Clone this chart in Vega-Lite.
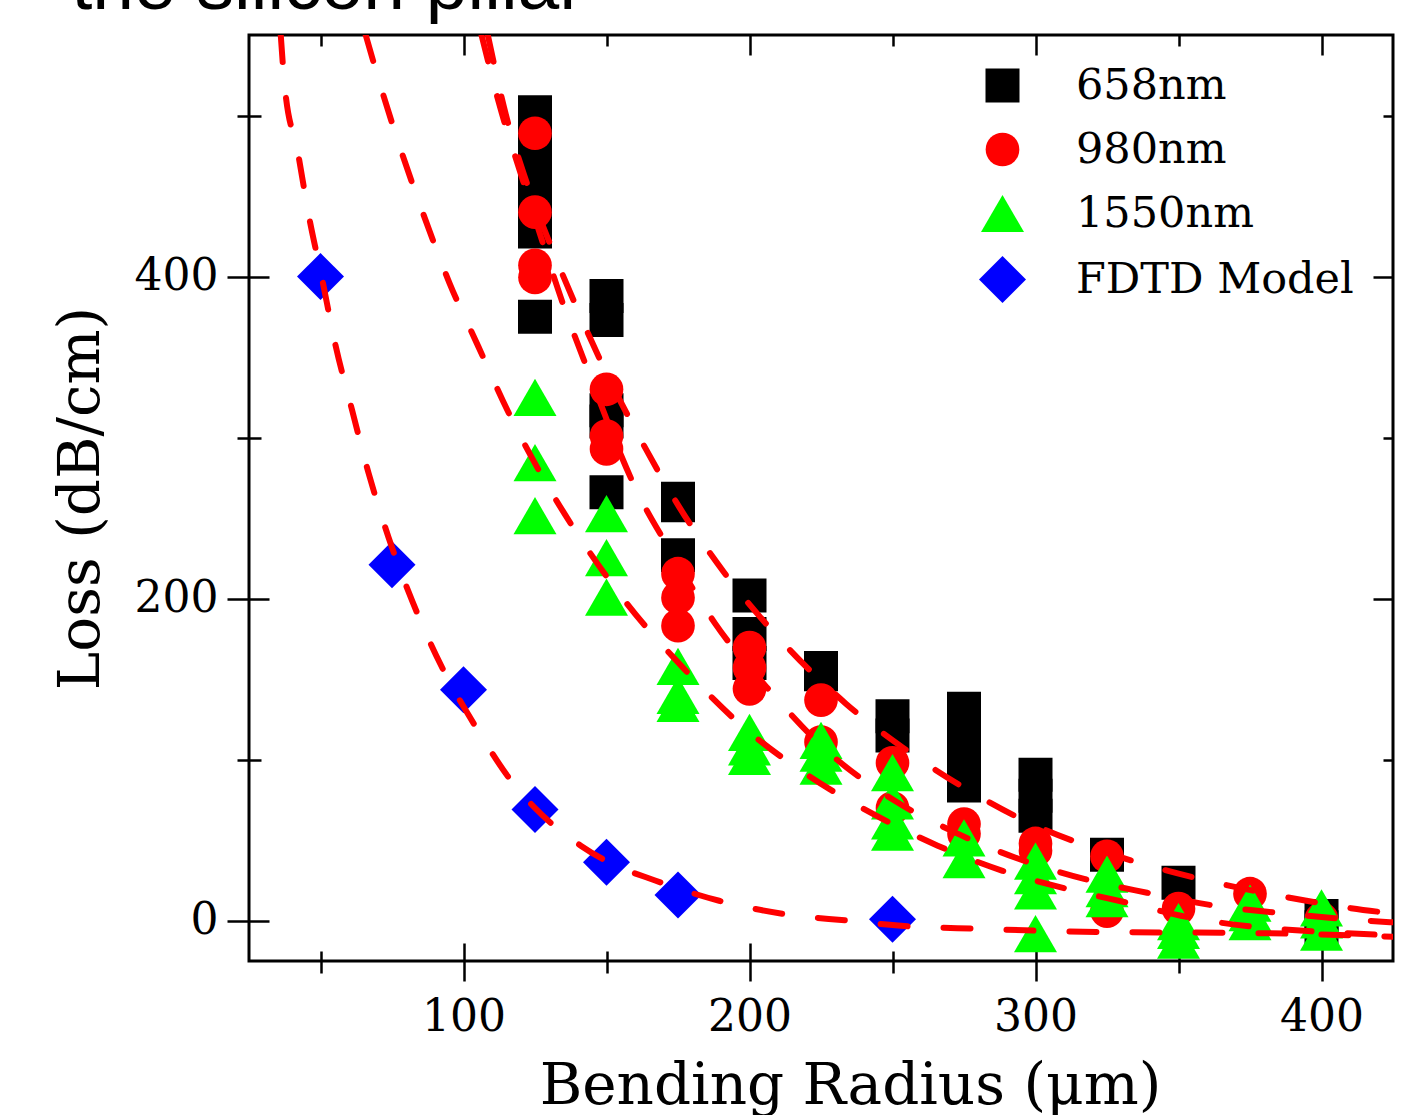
{
  "$schema": "https://vega.github.io/schema/vega-lite/v6.json",
  "autosize": "none",
  "width": 1144,
  "height": 926,
  "padding": {"left": 249, "top": 35, "right": 15, "bottom": 154},
  "background": "white",
  "datasets": {
    "points": [
      {"series": "658nm", "r": 125, "loss": 502}, {"series": "658nm", "r": 125, "loss": 484}, {"series": "658nm", "r": 125, "loss": 469}, {"series": "658nm", "r": 125, "loss": 460}, {"series": "658nm", "r": 125, "loss": 441}, {"series": "658nm", "r": 125, "loss": 428}, {"series": "658nm", "r": 125, "loss": 375},
      {"series": "658nm", "r": 150, "loss": 388}, {"series": "658nm", "r": 150, "loss": 373}, {"series": "658nm", "r": 150, "loss": 317}, {"series": "658nm", "r": 150, "loss": 310}, {"series": "658nm", "r": 150, "loss": 266},
      {"series": "658nm", "r": 175, "loss": 262}, {"series": "658nm", "r": 175, "loss": 258}, {"series": "658nm", "r": 175, "loss": 227},
      {"series": "658nm", "r": 200, "loss": 202}, {"series": "658nm", "r": 200, "loss": 178}, {"series": "658nm", "r": 200, "loss": 160},
      {"series": "658nm", "r": 225, "loss": 157}, {"series": "658nm", "r": 225, "loss": 153},
      {"series": "658nm", "r": 250, "loss": 127}, {"series": "658nm", "r": 250, "loss": 115},
      {"series": "658nm", "r": 275, "loss": 131.7}, {"series": "658nm", "r": 275, "loss": 115}, {"series": "658nm", "r": 275, "loss": 99.4}, {"series": "658nm", "r": 275, "loss": 84},
      {"series": "658nm", "r": 300, "loss": 90.7}, {"series": "658nm", "r": 300, "loss": 77.6}, {"series": "658nm", "r": 300, "loss": 65.2},
      {"series": "658nm", "r": 325, "loss": 41},
      {"series": "658nm", "r": 350, "loss": 23.6},
      {"series": "658nm", "r": 400, "loss": 3}, {"series": "658nm", "r": 400, "loss": -4},
      {"series": "980nm", "r": 125, "loss": 489}, {"series": "980nm", "r": 125, "loss": 440}, {"series": "980nm", "r": 125, "loss": 407}, {"series": "980nm", "r": 125, "loss": 399.5},
      {"series": "980nm", "r": 150, "loss": 330}, {"series": "980nm", "r": 150, "loss": 301}, {"series": "980nm", "r": 150, "loss": 293},
      {"series": "980nm", "r": 175, "loss": 215.5}, {"series": "980nm", "r": 175, "loss": 200.6}, {"series": "980nm", "r": 175, "loss": 183.2},
      {"series": "980nm", "r": 200, "loss": 169.6}, {"series": "980nm", "r": 200, "loss": 157}, {"series": "980nm", "r": 200, "loss": 144},
      {"series": "980nm", "r": 225, "loss": 137}, {"series": "980nm", "r": 225, "loss": 111},
      {"series": "980nm", "r": 250, "loss": 98}, {"series": "980nm", "r": 250, "loss": 70},
      {"series": "980nm", "r": 275, "loss": 60}, {"series": "980nm", "r": 275, "loss": 54},
      {"series": "980nm", "r": 300, "loss": 48}, {"series": "980nm", "r": 300, "loss": 43.5},
      {"series": "980nm", "r": 325, "loss": 40}, {"series": "980nm", "r": 325, "loss": 6},
      {"series": "980nm", "r": 350, "loss": 7.5},
      {"series": "980nm", "r": 375, "loss": 16.8},
      {"series": "980nm", "r": 400, "loss": 1.2},
      {"series": "1550nm", "r": 125, "loss": 325}, {"series": "1550nm", "r": 125, "loss": 284.5}, {"series": "1550nm", "r": 125, "loss": 251.5},
      {"series": "1550nm", "r": 150, "loss": 252.8}, {"series": "1550nm", "r": 150, "loss": 225.5}, {"series": "1550nm", "r": 150, "loss": 201},
      {"series": "1550nm", "r": 175, "loss": 158}, {"series": "1550nm", "r": 175, "loss": 140}, {"series": "1550nm", "r": 175, "loss": 135},
      {"series": "1550nm", "r": 200, "loss": 117}, {"series": "1550nm", "r": 200, "loss": 108}, {"series": "1550nm", "r": 200, "loss": 102},
      {"series": "1550nm", "r": 225, "loss": 112}, {"series": "1550nm", "r": 225, "loss": 104}, {"series": "1550nm", "r": 225, "loss": 96},
      {"series": "1550nm", "r": 250, "loss": 92}, {"series": "1550nm", "r": 250, "loss": 74.5}, {"series": "1550nm", "r": 250, "loss": 62}, {"series": "1550nm", "r": 250, "loss": 55},
      {"series": "1550nm", "r": 275, "loss": 51.5}, {"series": "1550nm", "r": 275, "loss": 38},
      {"series": "1550nm", "r": 300, "loss": 37}, {"series": "1550nm", "r": 300, "loss": 28}, {"series": "1550nm", "r": 300, "loss": 18.6}, {"series": "1550nm", "r": 300, "loss": -8},
      {"series": "1550nm", "r": 325, "loss": 29}, {"series": "1550nm", "r": 325, "loss": 20}, {"series": "1550nm", "r": 325, "loss": 13.7},
      {"series": "1550nm", "r": 350, "loss": -0.6}, {"series": "1550nm", "r": 350, "loss": -6}, {"series": "1550nm", "r": 350, "loss": -12},
      {"series": "1550nm", "r": 375, "loss": 11}, {"series": "1550nm", "r": 375, "loss": 5}, {"series": "1550nm", "r": 375, "loss": -0.6},
      {"series": "1550nm", "r": 400, "loss": 8}, {"series": "1550nm", "r": 400, "loss": 0.6}, {"series": "1550nm", "r": 400, "loss": -7},
      {"series": "FDTD Model", "r": 50, "loss": 400}, {"series": "FDTD Model", "r": 75, "loss": 221}, {"series": "FDTD Model", "r": 100, "loss": 143.5}, {"series": "FDTD Model", "r": 125, "loss": 69}, {"series": "FDTD Model", "r": 150, "loss": 36.3}, {"series": "FDTD Model", "r": 175, "loss": 16}, {"series": "FDTD Model", "r": 250, "loss": 1}
    ],
    "fits": [
      {"fit": "FDTD", "r": 36.1, "loss": 550}, {"fit": "FDTD", "r": 37.5, "loss": 518}, {"fit": "FDTD", "r": 42.1, "loss": 477}, {"fit": "FDTD", "r": 45.9, "loss": 438}, {"fit": "FDTD", "r": 50.4, "loss": 400}, {"fit": "FDTD", "r": 55.3, "loss": 357}, {"fit": "FDTD", "r": 60.9, "loss": 318}, {"fit": "FDTD", "r": 66.8, "loss": 278}, {"fit": "FDTD", "r": 73.8, "loss": 238}, {"fit": "FDTD", "r": 82.2, "loss": 198}, {"fit": "FDTD", "r": 92.3, "loss": 158}, {"fit": "FDTD", "r": 104.9, "loss": 118.6}, {"fit": "FDTD", "r": 117.5, "loss": 85}, {"fit": "FDTD", "r": 125, "loss": 70}, {"fit": "FDTD", "r": 141, "loss": 46.6}, {"fit": "FDTD", "r": 150, "loss": 37}, {"fit": "FDTD", "r": 167, "loss": 25}, {"fit": "FDTD", "r": 189.4, "loss": 12.4}, {"fit": "FDTD", "r": 211.7, "loss": 4.3}, {"fit": "FDTD", "r": 234.7, "loss": 0}, {"fit": "FDTD", "r": 252, "loss": -3}, {"fit": "FDTD", "r": 280, "loss": -5}, {"fit": "FDTD", "r": 324, "loss": -7}, {"fit": "FDTD", "r": 370, "loss": -7.5}, {"fit": "FDTD", "r": 400, "loss": -8.5}, {"fit": "FDTD", "r": 425, "loss": -10},
      {"fit": "1550", "r": 65.8, "loss": 550}, {"fit": "1550", "r": 71.4, "loss": 516}, {"fit": "1550", "r": 78.4, "loss": 477}, {"fit": "1550", "r": 86.4, "loss": 436.6}, {"fit": "1550", "r": 95.1, "loss": 396}, {"fit": "1550", "r": 105.2, "loss": 356.5}, {"fit": "1550", "r": 115.4, "loss": 316.8}, {"fit": "1550", "r": 127.2, "loss": 277}, {"fit": "1550", "r": 141, "loss": 237}, {"fit": "1550", "r": 156.9, "loss": 197.5}, {"fit": "1550", "r": 176.4, "loss": 157.8}, {"fit": "1550", "r": 197.7, "loss": 120.5}, {"fit": "1550", "r": 219, "loss": 92}, {"fit": "1550", "r": 243.5, "loss": 66}, {"fit": "1550", "r": 265.8, "loss": 46.6}, {"fit": "1550", "r": 288.5, "loss": 31}, {"fit": "1550", "r": 310.5, "loss": 20}, {"fit": "1550", "r": 332.5, "loss": 11}, {"fit": "1550", "r": 355, "loss": 1.6}, {"fit": "1550", "r": 377.8, "loss": -4}, {"fit": "1550", "r": 400.5, "loss": -7}, {"fit": "1550", "r": 425, "loss": -9},
      {"fit": "980", "r": 106.3, "loss": 550}, {"fit": "980", "r": 113.3, "loss": 502}, {"fit": "980", "r": 120, "loss": 464}, {"fit": "980", "r": 127.6, "loss": 421.7}, {"fit": "980", "r": 134.6, "loss": 384}, {"fit": "980", "r": 143, "loss": 344}, {"fit": "980", "r": 161.4, "loss": 264}, {"fit": "980", "r": 172.6, "loss": 229}, {"fit": "980", "r": 188, "loss": 184.5}, {"fit": "980", "r": 207.5, "loss": 142}, {"fit": "980", "r": 227, "loss": 105.6}, {"fit": "980", "r": 250.8, "loss": 74.5}, {"fit": "980", "r": 272, "loss": 54.7}, {"fit": "980", "r": 294, "loss": 38.5}, {"fit": "980", "r": 317, "loss": 26}, {"fit": "980", "r": 339, "loss": 17.4}, {"fit": "980", "r": 360.4, "loss": 10}, {"fit": "980", "r": 384.5, "loss": 5}, {"fit": "980", "r": 406.8, "loss": 1.2}, {"fit": "980", "r": 425, "loss": -1},
      {"fit": "658", "r": 108.5, "loss": 550}, {"fit": "658", "r": 114.8, "loss": 500.6}, {"fit": "658", "r": 121.4, "loss": 462}, {"fit": "658", "r": 131, "loss": 417}, {"fit": "658", "r": 140.5, "loss": 377}, {"fit": "658", "r": 148.9, "loss": 344}, {"fit": "658", "r": 162.5, "loss": 297}, {"fit": "658", "r": 175.4, "loss": 257}, {"fit": "658", "r": 190.8, "loss": 217}, {"fit": "658", "r": 209.2, "loss": 177.6}, {"fit": "658", "r": 233.7, "loss": 134.8}, {"fit": "658", "r": 253.6, "loss": 107.5}, {"fit": "658", "r": 275.6, "loss": 82}, {"fit": "658", "r": 297.6, "loss": 61}, {"fit": "658", "r": 319.9, "loss": 45.3}, {"fit": "658", "r": 342.9, "loss": 32.6}, {"fit": "658", "r": 365.3, "loss": 22.7}, {"fit": "658", "r": 388, "loss": 14.6}, {"fit": "658", "r": 410.3, "loss": 7.8}, {"fit": "658", "r": 425, "loss": 4.5}
    ]
  },
  "config": {
    "view": {"stroke": "black", "strokeWidth": 3},
    "axis": {"tickColor": "black", "tickWidth": 2.5, "labelColor": "black", "titleColor": "black", "labelFont": "DejaVu Serif", "titleFont": "DejaVu Serif", "titleFontWeight": "normal", "grid": false, "domain": false},
    "legend": {"labelFont": "DejaVu Serif", "labelFontSize": 43, "labelColor": "black", "labelLimit": 500, "symbolStrokeWidth": 0}
  },
  "resolve": {"axis": {"x": "independent", "y": "independent"}},
  "layer": [
    {
      "data": {"name": "points"},
      "transform": [{"filter": "datum.series === '658nm'"}],
      "mark": {"type": "point", "filled": true, "opacity": 1, "strokeWidth": 0},
      "encoding": {
        "x": {"field": "r", "type": "quantitative", "scale": {"domain": [25, 425], "nice": false, "zero": false},
          "axis": {"orient": "bottom", "values": [100, 200, 300, 400], "ticks": false, "labelFontSize": 44, "labelPadding": 34, "title": "Bending Radius (μm)", "titleFontSize": 58, "titlePadding": 18, "titleX": 601}},
        "y": {"field": "loss", "type": "quantitative", "scale": {"domain": [-25, 550], "nice": false, "zero": false},
          "axis": {"orient": "left", "values": [0, 200, 400], "ticks": false, "labelFontSize": 44, "labelPadding": 31, "title": "Loss (dB/cm)", "titleFontSize": 58, "titlePadding": 24}},
        "color": {"field": "series", "type": "nominal", "scale": {"domain": ["658nm", "980nm", "1550nm", "FDTD Model"], "range": ["#000000", "#ff0000", "#00ff00", "#0000ff"]},
          "legend": {"orient": "none", "legendX": 730, "legendY": 29, "title": null, "rowPadding": 20, "labelOffset": 50, "padding": 0}},
        "shape": {"field": "series", "type": "nominal", "scale": {"domain": ["658nm", "980nm", "1550nm", "FDTD Model"], "range": ["square", "circle", "triangle-up", "diamond"]}},
        "size": {"field": "series", "type": "nominal", "scale": {"type": "ordinal", "domain": ["658nm", "980nm", "1550nm", "FDTD Model"], "range": [1156, 1134, 1849, 2209]}}
      }
    },
    {
      "data": {"name": "points"},
      "transform": [{"filter": "datum.series === '980nm'"}],
      "mark": {"type": "point", "filled": true, "opacity": 1, "strokeWidth": 0},
      "encoding": {
        "x": {"field": "r", "type": "quantitative", "scale": {"domain": [25, 425], "nice": false, "zero": false},
          "axis": {"orient": "bottom", "values": [100, 200, 300, 400], "offset": -18, "tickSize": 38, "labels": false, "title": null}},
        "y": {"field": "loss", "type": "quantitative", "scale": {"domain": [-25, 550], "nice": false, "zero": false},
          "axis": {"orient": "left", "values": [0, 200, 400], "offset": -20, "tickSize": 42, "labels": false, "title": null}},
        "color": {"field": "series", "type": "nominal", "scale": {"domain": ["658nm", "980nm", "1550nm", "FDTD Model"], "range": ["#000000", "#ff0000", "#00ff00", "#0000ff"]},
          "legend": {"orient": "none", "legendX": 730, "legendY": 29, "title": null, "rowPadding": 20, "labelOffset": 50, "padding": 0}},
        "shape": {"field": "series", "type": "nominal", "scale": {"domain": ["658nm", "980nm", "1550nm", "FDTD Model"], "range": ["square", "circle", "triangle-up", "diamond"]}},
        "size": {"field": "series", "type": "nominal", "scale": {"type": "ordinal", "domain": ["658nm", "980nm", "1550nm", "FDTD Model"], "range": [1156, 1134, 1849, 2209]}}
      }
    },
    {
      "data": {"name": "points"},
      "transform": [{"filter": "datum.series === '1550nm'"}],
      "mark": {"type": "point", "filled": true, "opacity": 1, "strokeWidth": 0},
      "encoding": {
        "x": {"field": "r", "type": "quantitative", "scale": {"domain": [25, 425], "nice": false, "zero": false},
          "axis": {"orient": "bottom", "values": [50, 150, 250, 350], "offset": -10, "tickSize": 22, "labels": false, "title": null}},
        "y": {"field": "loss", "type": "quantitative", "scale": {"domain": [-25, 550], "nice": false, "zero": false},
          "axis": {"orient": "left", "values": [100, 300, 500], "offset": -12, "tickSize": 24, "labels": false, "title": null}},
        "color": {"field": "series", "type": "nominal", "scale": {"domain": ["658nm", "980nm", "1550nm", "FDTD Model"], "range": ["#000000", "#ff0000", "#00ff00", "#0000ff"]},
          "legend": {"orient": "none", "legendX": 730, "legendY": 29, "title": null, "rowPadding": 20, "labelOffset": 50, "padding": 0}},
        "shape": {"field": "series", "type": "nominal", "scale": {"domain": ["658nm", "980nm", "1550nm", "FDTD Model"], "range": ["square", "circle", "triangle-up", "diamond"]}},
        "size": {"field": "series", "type": "nominal", "scale": {"type": "ordinal", "domain": ["658nm", "980nm", "1550nm", "FDTD Model"], "range": [1156, 1134, 1849, 2209]}}
      }
    },
    {
      "data": {"name": "points"},
      "transform": [{"filter": "datum.series === 'FDTD Model'"}],
      "mark": {"type": "point", "filled": true, "opacity": 1, "strokeWidth": 0},
      "encoding": {
        "x": {"field": "r", "type": "quantitative", "scale": {"domain": [25, 425], "nice": false, "zero": false},
          "axis": {"orient": "top", "values": [100, 200, 300, 400], "offset": -20, "tickSize": 20, "labels": false,
            "title": "the silicon pillar", "titleFont": "Liberation Sans", "titleFontSize": 75, "titleFontWeight": "normal", "titleAlign": "left", "titleAnchor": null, "titleBaseline": "alphabetic", "titleX": -178, "titleY": -47, "titleAngle": 0}},
        "y": {"field": "loss", "type": "quantitative", "scale": {"domain": [-25, 550], "nice": false, "zero": false},
          "axis": {"orient": "right", "values": [0, 200, 400], "offset": -20, "tickSize": 20, "labels": false, "title": null}},
        "color": {"field": "series", "type": "nominal", "scale": {"domain": ["658nm", "980nm", "1550nm", "FDTD Model"], "range": ["#000000", "#ff0000", "#00ff00", "#0000ff"]},
          "legend": {"orient": "none", "legendX": 730, "legendY": 29, "title": null, "rowPadding": 20, "labelOffset": 50, "padding": 0}},
        "shape": {"field": "series", "type": "nominal", "scale": {"domain": ["658nm", "980nm", "1550nm", "FDTD Model"], "range": ["square", "circle", "triangle-up", "diamond"]}},
        "size": {"field": "series", "type": "nominal", "scale": {"type": "ordinal", "domain": ["658nm", "980nm", "1550nm", "FDTD Model"], "range": [1156, 1134, 1849, 2209]}}
      }
    },
    {
      "data": {"name": "fits"},
      "mark": {"type": "line", "color": "#ff0000", "strokeWidth": 6, "strokeDash": [27, 36], "strokeCap": "round", "interpolate": "monotone", "clip": true},
      "encoding": {
        "x": {"field": "r", "type": "quantitative", "scale": {"domain": [25, 425], "nice": false, "zero": false},
          "axis": {"orient": "top", "values": [50, 150, 250, 350], "offset": -11, "tickSize": 11, "labels": false, "title": null}},
        "y": {"field": "loss", "type": "quantitative", "scale": {"domain": [-25, 550], "nice": false, "zero": false},
          "axis": {"orient": "right", "values": [100, 300, 500], "offset": -10, "tickSize": 10, "labels": false, "title": null}},
        "detail": {"field": "fit", "type": "nominal"}
      }
    }
  ]
}
